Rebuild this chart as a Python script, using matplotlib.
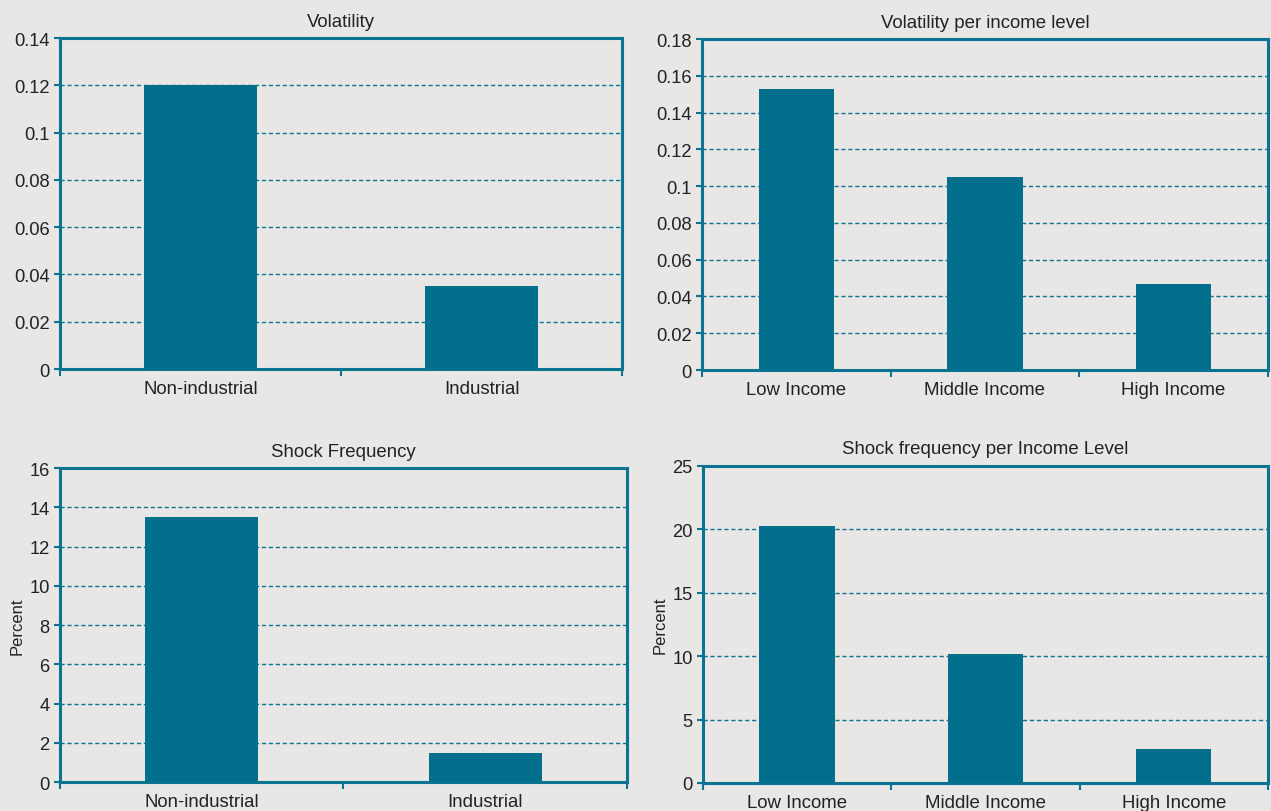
import numpy as np
import matplotlib.pyplot as plt
import matplotlib.ticker as mticker

plt.rcParams['font.family'] = ['Liberation Sans', 'DejaVu Sans']

BG = '#e8e7e5'
BAR = '#02708c'
TEAL = '#0a7391'

# data
cat_ind = ['Non-industrial', 'Industrial']
cat_inc = ['Low Income', 'Middle Income', 'High Income']
vol_ind = [0.12, 0.035]
vol_inc = [0.153, 0.105, 0.047]
shock_ind = [13.5, 1.5]
shock_inc = [20.3, 10.2, 2.7]


def draw_panel(ax, cats, vals, title, ymax, ystep, fmt, ylabel=None):
    x = np.arange(len(cats))
    ax.set_facecolor(BG)
    ax.bar(x, vals, width=0.4, color=BAR, zorder=3)
    ax.set_xlim(-0.5, len(cats) - 0.5)
    ax.set_ylim(0, ymax)
    ax.yaxis.set_major_locator(mticker.MultipleLocator(ystep))
    ax.yaxis.set_major_formatter(mticker.FuncFormatter(fmt))
    ax.grid(axis='y', color=TEAL, linestyle=(0, (3, 2)), linewidth=1.0, zorder=1)
    ax.set_xticks(x)
    ax.set_xticklabels(cats)
    ax.xaxis.set_minor_locator(mticker.FixedLocator(np.arange(len(cats) + 1) - 0.5))
    ax.tick_params(axis='x', which='major', length=0, labelsize=13.4, pad=8, colors='#222222')
    ax.tick_params(axis='x', which='minor', length=5, width=1.5, color=TEAL, direction='out')
    ax.tick_params(axis='y', length=4, width=1.5, color=TEAL, labelsize=13.2, labelcolor='#222222')
    for s in ax.spines.values():
        s.set_color(TEAL)
        s.set_linewidth(2.2)
    ax.set_title(title, fontsize=13.4, pad=9, color='#222222')
    if ylabel:
        ax.set_ylabel(ylabel, fontsize=12, color='#222222', labelpad=3)


fig = plt.figure(figsize=(12.71, 8.12), dpi=100, facecolor=BG)

ax1 = fig.add_axes([0.0472, 0.5443, 0.4422, 0.4076])
ax2 = fig.add_axes([0.5523, 0.5431, 0.4453, 0.4076])
ax3 = fig.add_axes([0.0472, 0.0357, 0.4461, 0.3867])
ax4 = fig.add_axes([0.5531, 0.0345, 0.4445, 0.3904])


def fmt_dec(v, _):
    if v == 0:
        return '0'
    s = f'{v:.2f}'
    return s.rstrip('0') if s.endswith('0') else s


def fmt_int(v, _):
    return f'{v:.0f}'


draw_panel(ax1, cat_ind, vol_ind, 'Volatility', 0.14, 0.02, fmt_dec)
draw_panel(ax2, cat_inc, vol_inc, 'Volatility per income level', 0.18, 0.02, fmt_dec)
draw_panel(ax3, cat_ind, shock_ind, 'Shock Frequency', 16, 2, fmt_int, 'Percent')
draw_panel(ax4, cat_inc, shock_inc, 'Shock frequency per Income Level', 25, 5, fmt_int, 'Percent')

plt.savefig('out.png', dpi=100, facecolor=BG)
